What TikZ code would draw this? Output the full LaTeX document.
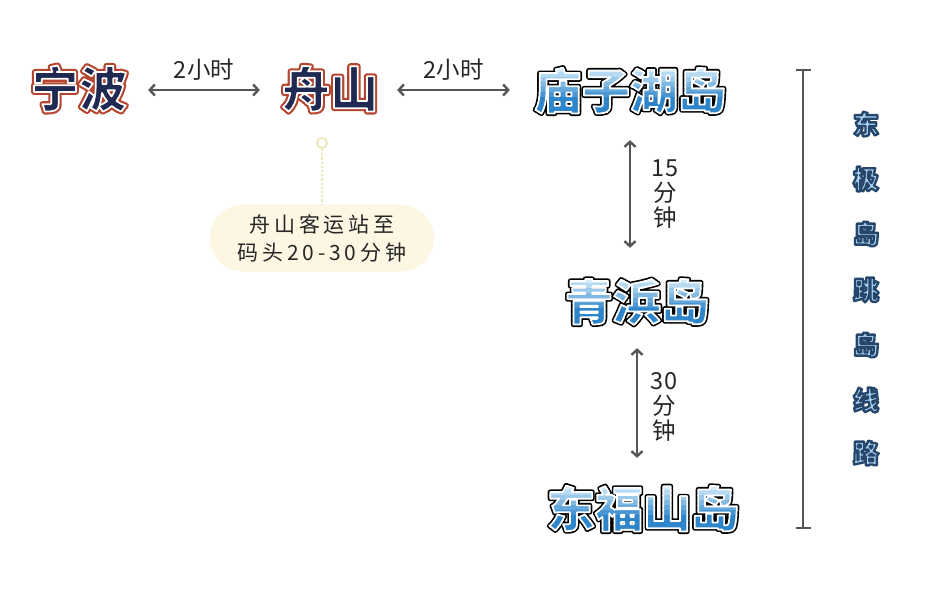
\documentclass[tikz,border=0pt]{standalone}
\usepackage{fontspec}
\usetikzlibrary{arrows.meta,shapes.misc}
\setmainfont{Noto Sans CJK SC}
\newfontfamily\cjk{Noto Sans CJK SC}
\newfontfamily\cjkls{Noto Sans CJK SC}[LetterSpace=18]
\definecolor{arrowc}{HTML}{555555}
\definecolor{creamc}{HTML}{FCF6E3}
\definecolor{pinc}{HTML}{ECE5B4}
\newcommand\titlefont{\cjk\bfseries\fontsize{48}{48}\selectfont}
% fill colour, stroke colour (rgb triples), emboldening, text
\newcommand\stroked[4]{{\special{pdf:literal direct 1 j 1 J}\addfontfeature{FakeBold=#3}\special{pdf:bcolor [#1] [#2]}#4\special{pdf:ecolor}}}
\newcommand\redtitle[1]{\stroked{0.12 0.16 0.32}{1 1 1}{3.6}{#1}}
\newcommand\redshadow[1]{\stroked{0.71 0.27 0.18}{0.71 0.27 0.18}{12.5}{#1}}
\newcommand\bluebase[1]{\stroked{0 0 0}{0 0 0}{10.5}{#1}}
\newcommand\vtitle[1]{\stroked{0.66 0.82 0.94}{0.15 0.28 0.42}{9}{#1}}
% blue title with banded gradient: name, x, y, text
\newcommand\BlueTitle[4]{%
  \node[tnode] (#1) at (#2,#3) {\bluebase{#4}};
  \foreach \k in {0,...,9}{
    \pgfmathsetmacro\tt{min(1,\k/6)}
    \pgfmathsetmacro\tr{0.82-0.64*\tt}
    \pgfmathsetmacro\tg{0.92-0.40*\tt}
    \pgfmathsetmacro\tb{0.98-0.19*\tt}
    \begin{scope}
      \ifnum\k=9
        \clip (#2-115,#3-25+\k*5) rectangle (#2+115,#3+40);
      \else
        \clip (#2-115,#3-25+\k*5) rectangle (#2+115,#3-19.5+\k*5);
      \fi
      \node[tnode] at (#2,#3) {\stroked{\tr\space\tg\space\tb}{1 1 1}{3.6}{#4}};
    \end{scope}
  }
}
\tikzset{
  tnode/.style={inner sep=0pt, font=\titlefont, text height=40pt, text depth=6pt, minimum width=0pt},
  arr/.style={draw=arrowc, line width=2.4pt, {Straight Barb[length=5pt,width=11pt]}-{Straight Barb[length=5pt,width=11pt]}},
  lbl/.style={inner sep=0pt, font=\cjk\fontsize{23.5}{25}\selectfont, text=black!85, align=center},
  vchar/.style={inner sep=0pt, font=\cjk\bfseries\fontsize{26}{26}\selectfont}
}
\begin{document}
\begin{tikzpicture}[x=1pt,y=-1pt]
  \useasboundingbox (0,0) rectangle (935,595);
  \fill[white] (0,0) rectangle (935,595);
  % red titles
  \node[tnode] at (79,90) {\redshadow{宁波}};
  \node[tnode] (nb) at (79,90) {\redtitle{宁波}};
  \node[tnode] at (330,90) {\redshadow{舟山}};
  \node[tnode] (zs) at (330,90) {\redtitle{舟山}};
  % blue titles
  \BlueTitle{mz}{630}{92}{庙子湖岛}
  \BlueTitle{qb}{637}{303}{青浜岛}
  \BlueTitle{df}{643}{510}{东福山岛}
  % horizontal arrows
  \draw[arr] ([xshift=21pt]nb.east) -- node[lbl, above=8pt] (t1) {2小时} ([xshift=-22pt]zs.west);
  \draw[arr] ([xshift=19pt]zs.east) -- node[lbl, above=8pt] (t2) {2小时} ([xshift=-24pt]zs.east -| mz.west);
  % vertical arrows
  \draw[arr] ([yshift=-25pt]mz.south) -- ([yshift=32pt]mz.south |- qb.north);
  \node[lbl] (l15) at (665,194) {15\\分\\钟};
  \draw[arr] ([yshift=-22pt]qb.south) -- ([yshift=29pt]qb.south |- df.north);
  \node[lbl] (l30) at (664,407) {30\\分\\钟};
  % callout
  \node[rounded rectangle, fill=creamc, minimum width=224pt, minimum height=67pt, inner sep=0pt,
        font=\cjkls\fontsize{21}{28}\selectfont, align=center, text=black!85] (co) at (322,238)
        {舟山客运站至\\码头20-30分钟};
  \node[circle, draw=pinc, line width=1.8pt, fill=white, minimum size=10pt, inner sep=0pt] (pin) at (322,143) {};
  \draw[pinc, line width=2.2pt, dotted] (pin.south) -- (co.north);
  % bracket
  \coordinate (bt) at (803,70);
  \coordinate (bb) at (803,528);
  \draw[arrowc, line width=2.4pt] (bt) -- (bb);
  \draw[arrowc, line width=2.4pt] ([xshift=-7pt]bt) -- ([xshift=8pt]bt);
  \draw[arrowc, line width=2.4pt] ([xshift=-7pt]bb) -- ([xshift=8pt]bb);
  % vertical title
  \foreach \c/\yy [count=\i] in {东/124, 极/179, 岛/234, 跳/290, 岛/345, 线/400, 路/453}{
    \node[vchar] (v\i) at (866,\yy) {\vtitle{\c}};
  }
\end{tikzpicture}
\end{document}
